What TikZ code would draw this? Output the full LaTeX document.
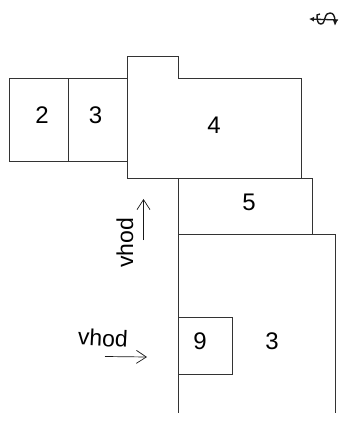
\documentclass[tikz,border=0pt]{standalone}
\usepackage{fontspec}
\setmainfont{Liberation Sans}
\usetikzlibrary{positioning, arrows.meta}

\begin{document}
\begin{tikzpicture}[x=1pt, y=-1pt, font=\fontsize{24}{28}\selectfont,
  room/.style={draw=black!80, line width=0.8pt},
  label/.style={inner sep=0pt},
  arrow/.style={-{Straight Barb[length=10pt, width=13pt]}, black!90, line width=0.7pt},
  vhodtext/.style={inner sep=0pt, font=\fontsize{23}{26}\selectfont}
]
\useasboundingbox (0,0) rectangle (339,443);

\draw[room] (127,78.5) -- (9,78.5) -- (9,161) -- (127,161);
\draw[room] (68,78.5) -- (68,161);
\draw[room] (127,56) -- (178,56) -- (178,78) -- (301,78) -- (301,178) -- (127,178) -- cycle;
\draw[room] (178,178) -- (312,178) -- (312,234);
\draw[room] (178,178) -- (178,413);
\draw[room] (178,234) -- (335,234) -- (335,413);
\draw[room] (178,317) -- (232,317) -- (232,374) -- (178,374);

\node[label] (two) at (42,115) {2};
\node[label] (three) at (95.5,115) {3};
\node[label] (four) at (214,125) {4};
\node[label] (five) at (249,202) {5};
\node[label] (nine) at (200,341) {9};
\node[label] (threeb) at (272,341) {3};
\node[vhodtext, rotate=90] (vhodup) at (125,243) {vhod};
\node[vhodtext, rotate=-3] (vhodright) at (103,338) {vhod};

\coordinate (upstart) at (143.5,240);
\coordinate (upend) at (143.5,199);
\coordinate (rightstart) at (105,356.5);
\coordinate (rightend) at (147,357);
\draw[arrow] (upstart) -- (upend);
\draw[arrow] (rightstart) -- (rightend);

% small mark top right
\coordinate (marktip) at (309,19);
\coordinate (markend) at (338,20);
\draw[black!90, line width=1.3pt, -{Latex[length=5pt, width=5pt]}] (markend) -- (marktip);
\draw[black!90, line width=1.4pt] (320,14) -- (317,15) .. controls (317,21) and (318,24) .. (321,24)
  .. controls (324,24) and (324,20) .. (325,18) .. controls (326,14) and (328,13) .. (330,13)
  .. controls (333,13) and (335,16) .. (335,21);
\fill[black!90] (333,20) -- (337.5,20) -- (335,25.5) -- cycle;
\end{tikzpicture}
\end{document}
